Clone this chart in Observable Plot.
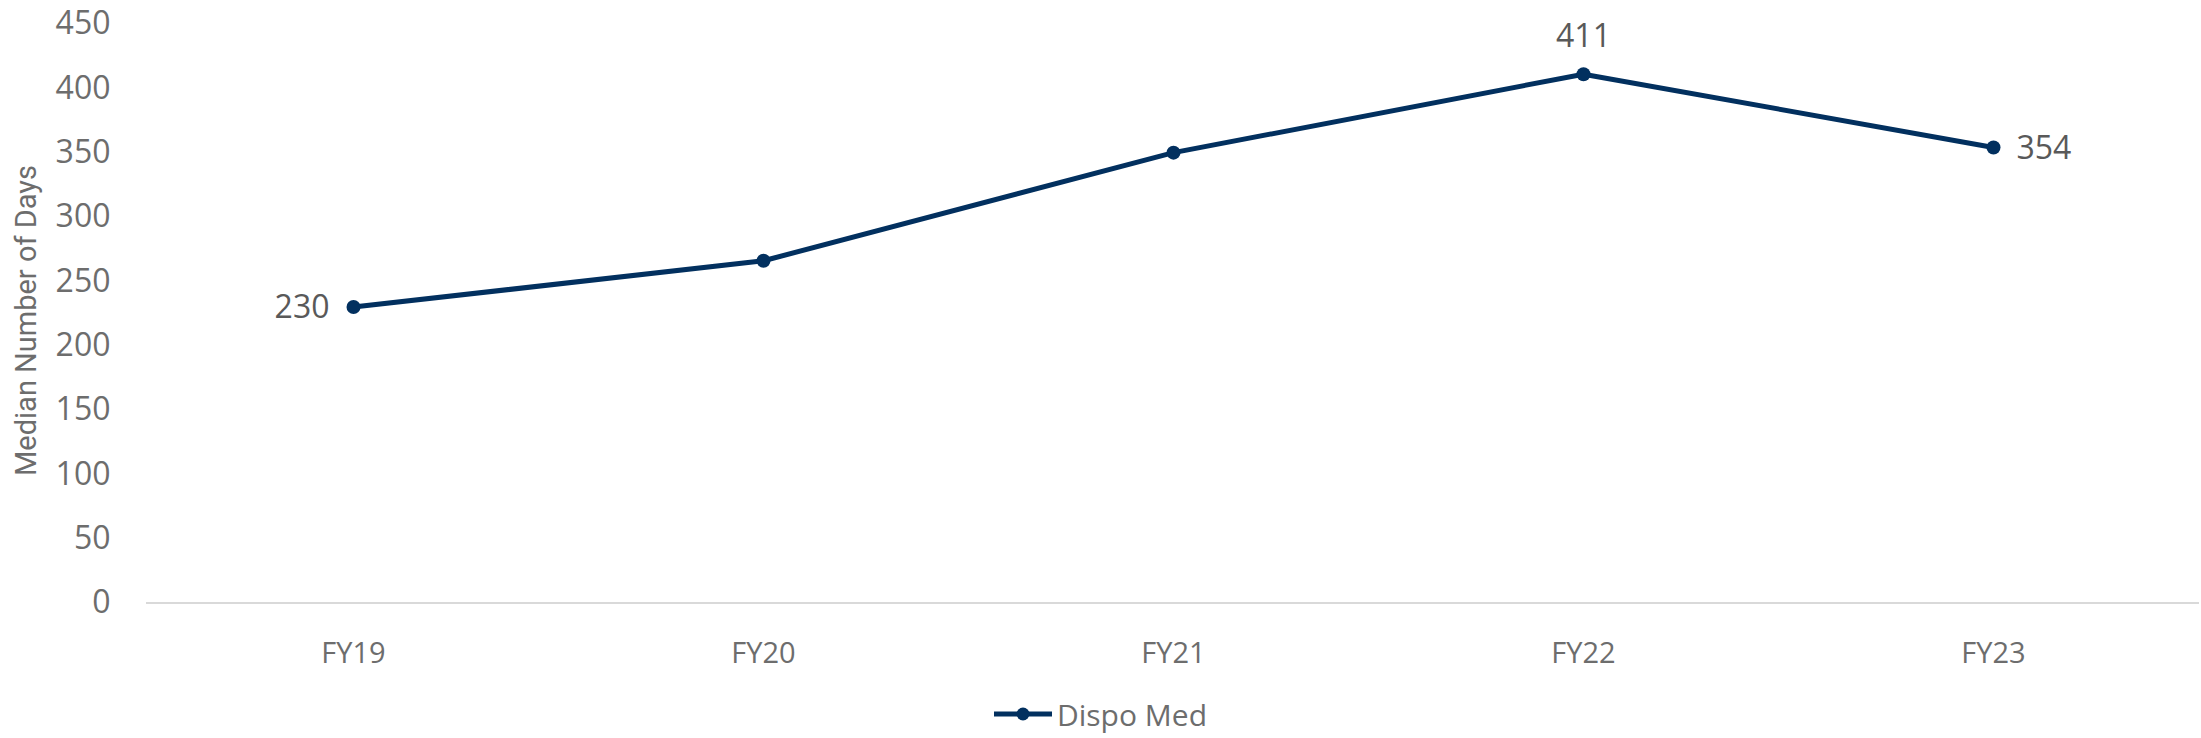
<!DOCTYPE html>
<html>
<head>
<meta charset="utf-8">
<script src="https://cdn.jsdelivr.net/npm/d3@7"></script>
<script src="https://cdn.jsdelivr.net/npm/@observablehq/plot@0.6"></script>
<style>
  html, body { margin: 0; padding: 0; background: #fff; }
  #chart svg { display: block; }
  #legend { height: 48px; display: flex; justify-content: center; align-items: center; font-family: "Open Sans", sans-serif; font-size: 30px; color: #6d6d6d; }
  #legend .sw { margin-right: 5px; }
</style>
</head>
<body>
<div id="chart"></div>
<div id="legend"></div>
<script>
const years = ["FY19", "FY20", "FY21", "FY22", "FY23"];
const values = [230, 266, 350, 411, 354];
const labeledYears = ["FY19", "FY22", "FY23"];
const yTicks = [0, 50, 100, 150, 200, 250, 300, 350, 400, 450];
const seriesName = "Dispo Med";
const yTitle = "Median Number of Days";

const lineColor = "#02305f";
const data = years.map((y, i) => ({year: y, value: values[i]}));
const lab = data.filter(d => labeledYears.includes(d.year));

const chart = Plot.plot({
  width: 2201,
  height: 690,
  marginLeft: 146,
  marginRight: 2,
  marginTop: 23.5,
  marginBottom: 87.5,
  style: {fontFamily: "'Open Sans', sans-serif", background: "#fff"},
  x: {type: "point", domain: years, padding: 0.5},
  y: {domain: [0, 450]},
  marks: [
    Plot.ruleY([0], {stroke: "#d9d9d9", strokeWidth: 2}),
    Plot.axisY({ticks: yTicks, tickSize: 0, tickPadding: 36, fontSize: 32, color: "#6d6d6d", fill: "#6d6d6d", label: null}),
    Plot.axisX({tickSize: 0, tickPadding: 39, fontSize: 29, color: "#6d6d6d", fill: "#6d6d6d", label: null}),
    Plot.text([yTitle], {frameAnchor: "left", textAnchor: "middle", lineAnchor: "middle", dx: -120, dy: 7, rotate: -90, fontSize: 29, fill: "#6d6d6d", fontFamily: "Roboto, sans-serif"}),
    Plot.line(data, {x: "year", y: "value", stroke: lineColor, strokeWidth: 5, strokeLinejoin: "round"}),
    Plot.dot(data, {x: "year", y: "value", r: 7, fill: lineColor, stroke: null}),
    Plot.text(lab.filter(d => d.year === "FY19"), {x: "year", y: "value", text: d => String(d.value), textAnchor: "end", dx: -24, dy: 1, fontSize: 32, fill: "#595959"}),
    Plot.text(lab.filter(d => d.year === "FY22"), {x: "year", y: "value", text: d => String(d.value), dy: -37, fontSize: 32, fill: "#595959"}),
    Plot.text(lab.filter(d => d.year === "FY23"), {x: "year", y: "value", text: d => String(d.value), textAnchor: "start", dx: 23, dy: 1, fontSize: 32, fill: "#595959"})
  ]
});
document.getElementById("chart").appendChild(chart);

const legend = document.getElementById("legend");
legend.innerHTML = `<svg class="sw" width="58" height="20" viewBox="0 0 58 20"><line x1="0" y1="10" x2="58" y2="10" stroke="${lineColor}" stroke-width="5" stroke-linecap="round"/><circle cx="29" cy="10" r="6.5" fill="${lineColor}"/></svg><span>${seriesName}</span>`;
</script>
</body>
</html>
